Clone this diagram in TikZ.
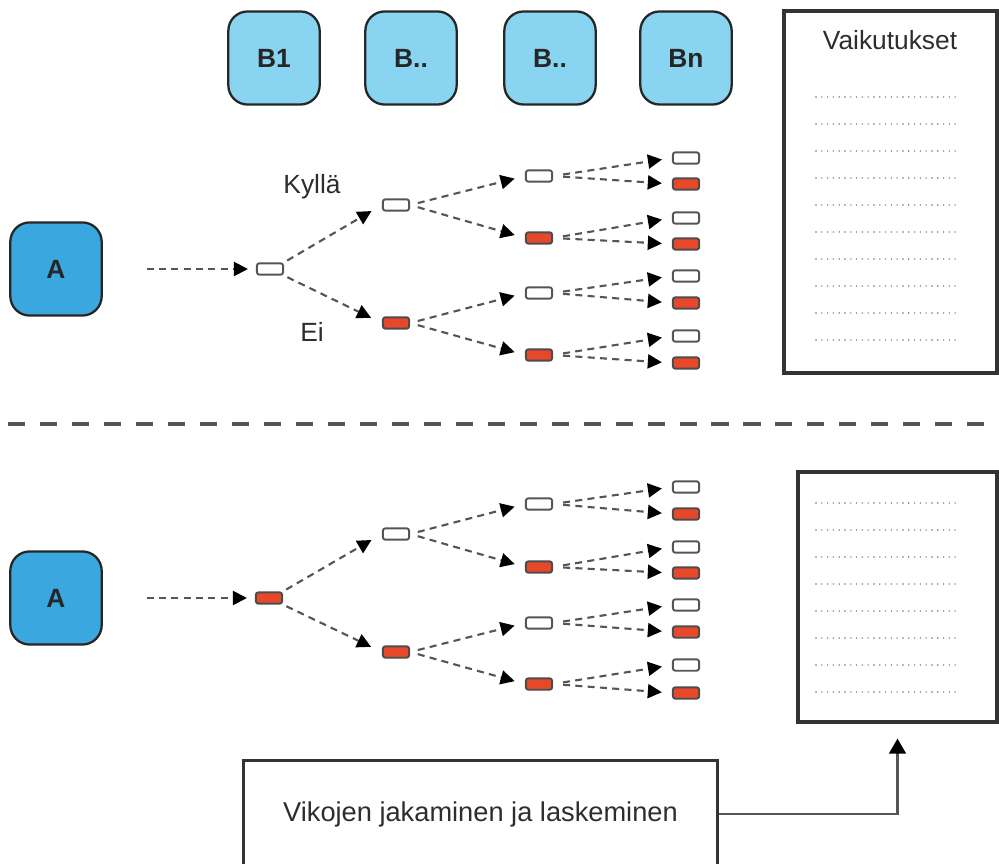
\documentclass[tikz,border=0pt]{standalone}
\usepackage{fontspec}
\setmainfont{Liberation Sans}
\usetikzlibrary{arrows.meta}
\definecolor{bblock}{RGB}{137, 212, 240}
\definecolor{ablock}{RGB}{58, 168, 222}
\definecolor{failred}{RGB}{232, 72, 42}
\definecolor{edgegray}{RGB}{85, 85, 85}
\definecolor{txtgray}{RGB}{45, 45, 45}

\tikzset{
	varbox/.style={draw=black!85, line width=1.3pt, rounded corners=11pt,
		minimum width=52pt, minimum height=53pt,
		font=\fontsize{15}{18}\selectfont\bfseries, text=black!85},
	leafok/.style={draw=edgegray, line width=1.1pt, fill=white, rounded corners=1.5pt,
		minimum width=15pt, minimum height=6.5pt, inner sep=0pt},
	leaffail/.style={leafok, fill=failred, draw=black!70},
	flow/.style={edgegray, line width=1.2pt, dash pattern=on 4pt off 3pt,
		-{Triangle[length=8pt, width=8pt, color=black]}},
	resbox/.style={draw=black!80, line width=2.2pt, inner sep=0pt},
	dotline/.style={black!55, line width=0.9pt, line cap=round, dash pattern=on 0pt off 3.3pt},
	lbl/.style={font=\fontsize{15}{18}\selectfont, text=txtgray},
}

\begin{document}
\begin{tikzpicture}[x=0.02cm, y=-0.02cm]
	\useasboundingbox (0,0) rectangle (999,864);
	\clip (0,0) rectangle (999,864);

	% variables B1..Bn
	\foreach \n/\x/\t in {1/274/B1, 2/411/B.., 3/550/B.., 4/686/Bn}
		\node[varbox, fill=bblock] (var\n) at (\x,58) {\t};

	% starting points
	\node[varbox, fill=ablock] (a1) at (56,269) {A};
	\node[varbox, fill=ablock] (a2) at (56,598) {A};

	% upper tree
	\node[leafok]   (up0) at (270,269) {};
	\node[leafok]   (up1) at (396,205) {};
	\node[leaffail] (up2) at (396,323) {};
	\foreach \n/\y/\s in {11/176/leafok, 12/238/leaffail, 21/293/leafok, 22/355/leaffail}
		\node[\s] (up\n) at (539,\y) {};
	\foreach \n/\y/\s in {111/158/leafok, 112/184/leaffail, 121/218/leafok, 122/244/leaffail,
		211/276/leafok, 212/303/leaffail, 221/336/leafok, 222/363/leaffail}
		\node[\s] (up\n) at (686,\y) {};

	\node[lbl] (yes) at (312,187) {Kyllä};
	\node[lbl] (no)  at (312,332) {Ei};

	% lower tree
	\node[leaffail] (lo0) at (269,598) {};
	\node[leafok]   (lo1) at (396,534) {};
	\node[leaffail] (lo2) at (396,652) {};
	\foreach \n/\y/\s in {11/504/leafok, 12/567/leaffail, 21/623/leafok, 22/684/leaffail}
		\node[\s] (lo\n) at (539,\y) {};
	\foreach \n/\y/\s in {111/487/leafok, 112/514/leaffail, 121/547/leafok, 122/573/leaffail,
		211/605/leafok, 212/632/leaffail, 221/665/leafok, 222/693/leaffail}
		\node[\s] (lo\n) at (686,\y) {};

	% branches, same for both trees
	\draw[flow, shorten <=25pt, shorten >=4.5pt] (a1.east) -- (up0.west);
	\draw[flow, shorten <=25pt, shorten >=4.5pt] (a2.east) -- (lo0.west);
	\foreach \tr in {up, lo} {
		\draw[flow, shorten <=2pt, shorten >=6.8pt] (\tr0.north east) -- (\tr1.west);
		\draw[flow, shorten <=2pt, shorten >=6.8pt] (\tr0.south east) -- (\tr2.west);
		\foreach \p/\c in {1/11, 1/12, 2/21, 2/22}
			\draw[flow, shorten <=4.5pt, shorten >=6pt] (\tr\p.east) -- (\tr\c.west);
		\foreach \p in {11, 12, 21, 22} {
			\draw[flow, shorten <=5.7pt, shorten >=5.7pt] (\tr\p.east) -- (\tr\p1.west);
			\draw[flow, shorten <=5.7pt, shorten >=5.7pt] (\tr\p.east) -- (\tr\p2.west);
		}
	}

	% results
	\node[resbox, minimum width=121pt, minimum height=206pt] (res1) at (890.5,192) {};
	\node[lbl] (res1title) at (890,40) {Vaikutukset};
	\foreach \y in {97,124,...,340}
		\draw[dotline] (816,\y) -- (960,\y);

	\node[resbox, minimum width=113pt, minimum height=142pt] (res2) at (897.5,597) {};
	\foreach \y in {503,530,...,692}
		\draw[dotline] (816,\y) -- (960,\y);

	% separator
	\draw[edgegray, line width=2.3pt, dash pattern=on 9.7pt off 8.5pt] (8,424) -- (999,424);

	% fault sharing
	\node[resbox, line width=1.8pt, minimum width=270pt, minimum height=61pt, lbl,
		font=\fontsize{15.5}{18}\selectfont] (fault)
		at (480.5,814) {Vikojen jakaminen ja laskeminen};
	\draw[edgegray, line width=1.3pt, -{Triangle[length=8.5pt, width=9.5pt, color=black]},
		shorten >=8.5pt] (fault.east) -| (res2.south);
\end{tikzpicture}
\end{document}
